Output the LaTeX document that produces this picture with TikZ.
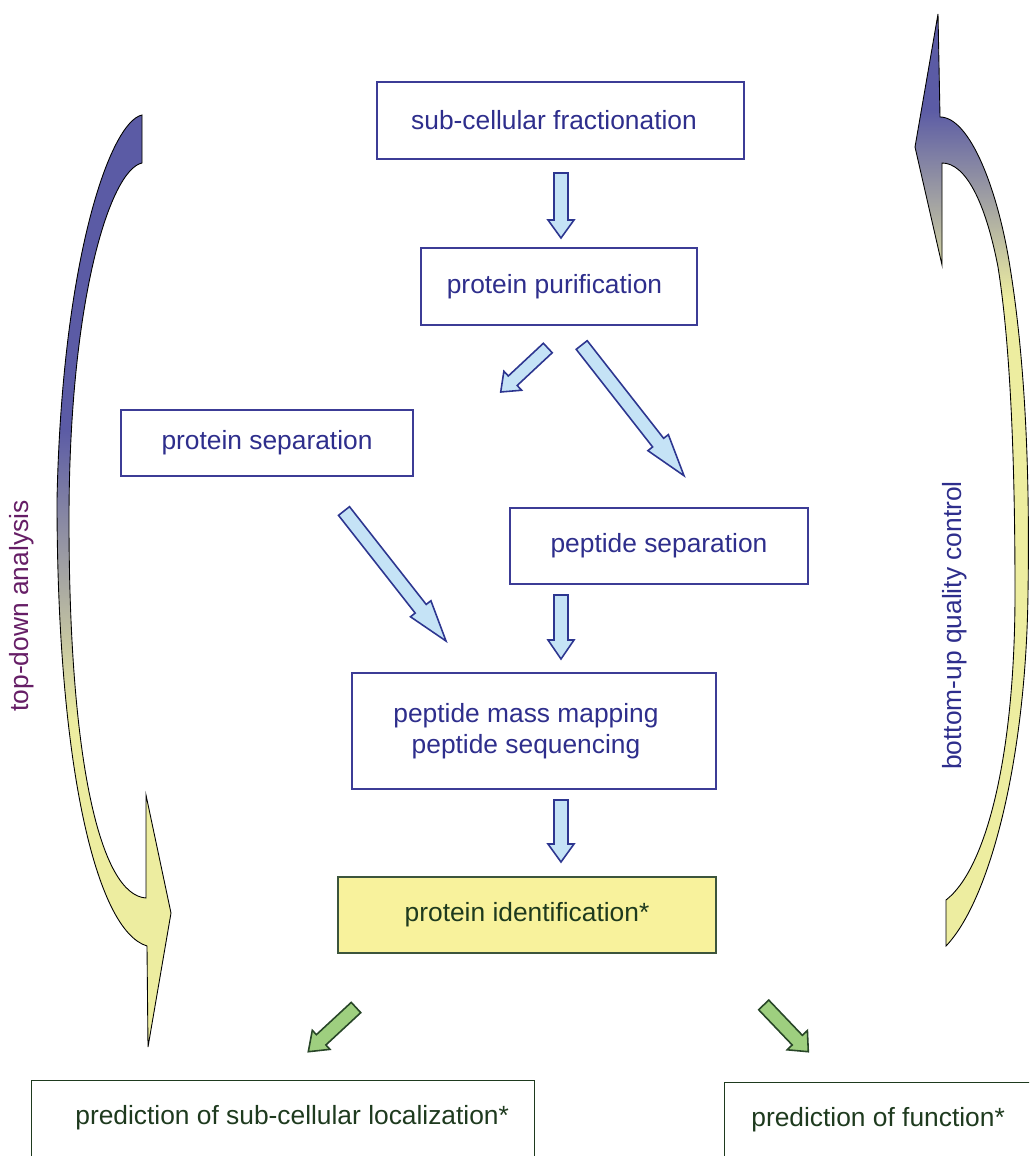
\documentclass[tikz,border=0pt]{standalone}
\usepackage{fontspec}
\setmainfont{Liberation Sans}
\usetikzlibrary{calc}
\definecolor{txtblue}{RGB}{46,46,140}
\definecolor{boxblue}{RGB}{60,60,150}
\definecolor{arrfill}{RGB}{197,227,246}
\definecolor{arrline}{RGB}{45,54,144}
\definecolor{txtpurple}{RGB}{102,30,102}
\definecolor{idfill}{RGB}{248,242,156}
\definecolor{idline}{RGB}{60,85,60}
\definecolor{dkgreen}{RGB}{30,58,30}
\definecolor{grfill}{RGB}{158,207,127}
\definecolor{grline}{RGB}{40,70,40}
\definecolor{cblue}{RGB}{91,91,165}
\definecolor{cyellow}{RGB}{237,237,160}
\newcommand{\myfs}{\fontsize{15}{17.3}\selectfont}
% #1 style, #2 tail, #3 tip, #4 half shaft, #5 half head, #6 head length
\newcommand{\blockarr}[6]{%
  \coordinate (ba-H) at ($#3!#6!#2$);
  \draw[#1] ($#2!#4!90:#3$) -- ($(ba-H)!#4!90:#3$) -- ($(ba-H)!#5!90:#3$) -- #3
    -- ($(ba-H)!#5!-90:#3$) -- ($(ba-H)!#4!-90:#3$) -- ($#2!#4!-90:#3$) -- cycle;
}
\begin{document}
\begin{tikzpicture}[x=0.02cm,y=-0.02cm,
  box/.style={draw=boxblue, line width=0.8pt, text=txtblue, inner sep=0pt, font=\myfs, align=center},
  bluearr/.style={fill=arrfill, draw=arrline, line width=0.9pt, line join=miter},
  greenarr/.style={fill=grfill, draw=grline, line width=0.9pt, line join=miter},
  curveline/.style={draw=black, line width=0.5pt}]
\useasboundingbox (0,0) rectangle (1029,1156);
\clip (0,0) rectangle (1029,1156);

% boxes
\node[box, minimum width=7.34cm, minimum height=1.54cm] (frac) at (560.5,120.5) {sub-cellular fractionation\kern0.26cm};
\node[box, minimum width=5.52cm, minimum height=1.54cm] (purif) at (559,286.5) {protein purification\kern0.18cm};
\node[box, minimum width=5.84cm, minimum height=1.32cm] (protsep) at (267,443) {protein separation};
\node[box, minimum width=5.96cm, minimum height=1.52cm] (pepsep) at (659,546) {peptide separation};
\node[box, minimum width=7.28cm, minimum height=2.32cm] (mapping) at (534,731) {peptide mass mapping\kern0.32cm\\peptide sequencing\kern0.32cm};
\node[box, draw=idline, fill=idfill, text=dkgreen, minimum width=7.56cm, minimum height=1.52cm] (ident) at (527,915) {protein identification*};

\node[draw=dkgreen, line width=0.8pt, minimum width=10.06cm, minimum height=3cm, anchor=north west, inner sep=0pt] (locbox) at (31,1080) {};
\node[font=\myfs, text=dkgreen, anchor=west, inner sep=0pt] (loc) at (75,1118) {prediction of sub-cellular localization*};
\node[draw=dkgreen, line width=0.8pt, minimum width=10cm, minimum height=3cm, anchor=north west, inner sep=0pt] (funcbox) at (724,1082) {};
\node[font=\myfs, text=dkgreen, anchor=west, inner sep=0pt] (func) at (751,1120) {prediction of function*};

% side labels
\node[rotate=90, font=\myfs, text=txtpurple, inner sep=0pt] (td) at (22,606) {top-down analysis};
\node[rotate=90, font=\myfs, text=txtblue, inner sep=0pt] (bu) at (955,625.5) {bottom-up quality control};

% block arrows
\coordinate (a1s) at (561,173);   \coordinate (a1e) at (561,238);
\coordinate (a2s) at (547.8,348); \coordinate (a2e) at (500.7,392);
\coordinate (a3s) at (581.7,345); \coordinate (a3e) at (684,475.7);
\coordinate (a4s) at (344,511);   \coordinate (a4e) at (446,641);
\coordinate (a5s) at (561,595);   \coordinate (a5e) at (561,659);
\coordinate (a6s) at (561,800);   \coordinate (a6e) at (561,862);
\coordinate (g1s) at (356,1007.5); \coordinate (g1e) at (308.3,1051.7);
\coordinate (g2s) at (763.7,1004.9); \coordinate (g2e) at (808.3,1051.7);

\blockarr{bluearr}{(a1s)}{(a1e)}{0.14cm}{0.26cm}{0.36cm}
\blockarr{bluearr}{(a2s)}{(a2e)}{0.13cm}{0.26cm}{0.33cm}
\blockarr{bluearr}{(a3s)}{(a3e)}{0.14cm}{0.26cm}{0.84cm}
\blockarr{bluearr}{(a4s)}{(a4e)}{0.14cm}{0.26cm}{0.82cm}
\blockarr{bluearr}{(a5s)}{(a5e)}{0.14cm}{0.26cm}{0.38cm}
\blockarr{bluearr}{(a6s)}{(a6e)}{0.14cm}{0.26cm}{0.36cm}
\blockarr{greenarr}{(g1s)}{(g1e)}{0.14cm}{0.26cm}{0.35cm}
\blockarr{greenarr}{(g2s)}{(g2e)}{0.14cm}{0.28cm}{0.32cm}

% left curved arrow
\def\leftpath{(142,115) .. controls (110,122) and (62,260) .. (57,500)
  .. controls (57,760) and (95,930) .. (147,946)
  -- (148,1047) -- (171,913) -- (146,795) -- (146,898)
  .. controls (100,895) and (69,760) .. (69,520)
  .. controls (69,300) and (110,170) .. (142,163) -- cycle}
\begin{scope}
  \clip \leftpath;
  \fill[cyellow] (30,100) rectangle (200,1060);
  \fill[cblue] (30,100) rectangle (200,430);
  \shade[top color=cblue, bottom color=cyellow] (30,429) rectangle (200,720);
\end{scope}
\draw[curveline] \leftpath;

% right curved arrow
\def\rightpath{(915,147) -- (938,14) -- (940,117)
  .. controls (970,117) and (998,190) .. (1010,267)
  .. controls (1025,360) and (1030,470) .. (1028,593)
  .. controls (1026,760) and (990,900) .. (946,946)
  -- (946,900)
  .. controls (985,870) and (1015,760) .. (1015,593)
  .. controls (1015,430) and (1008,330) .. (998,267)
  .. controls (985,200) and (965,163) .. (942,163)
  -- (942,265) -- cycle}
\begin{scope}
  \clip \rightpath;
  \fill[cyellow] (900,0) rectangle (1040,960);
  \fill[cblue] (900,0) rectangle (1040,110);
  \shade[top color=cblue, bottom color=cyellow] (900,109) rectangle (1040,300);
\end{scope}
\draw[curveline] \rightpath;
\end{tikzpicture}
\end{document}
